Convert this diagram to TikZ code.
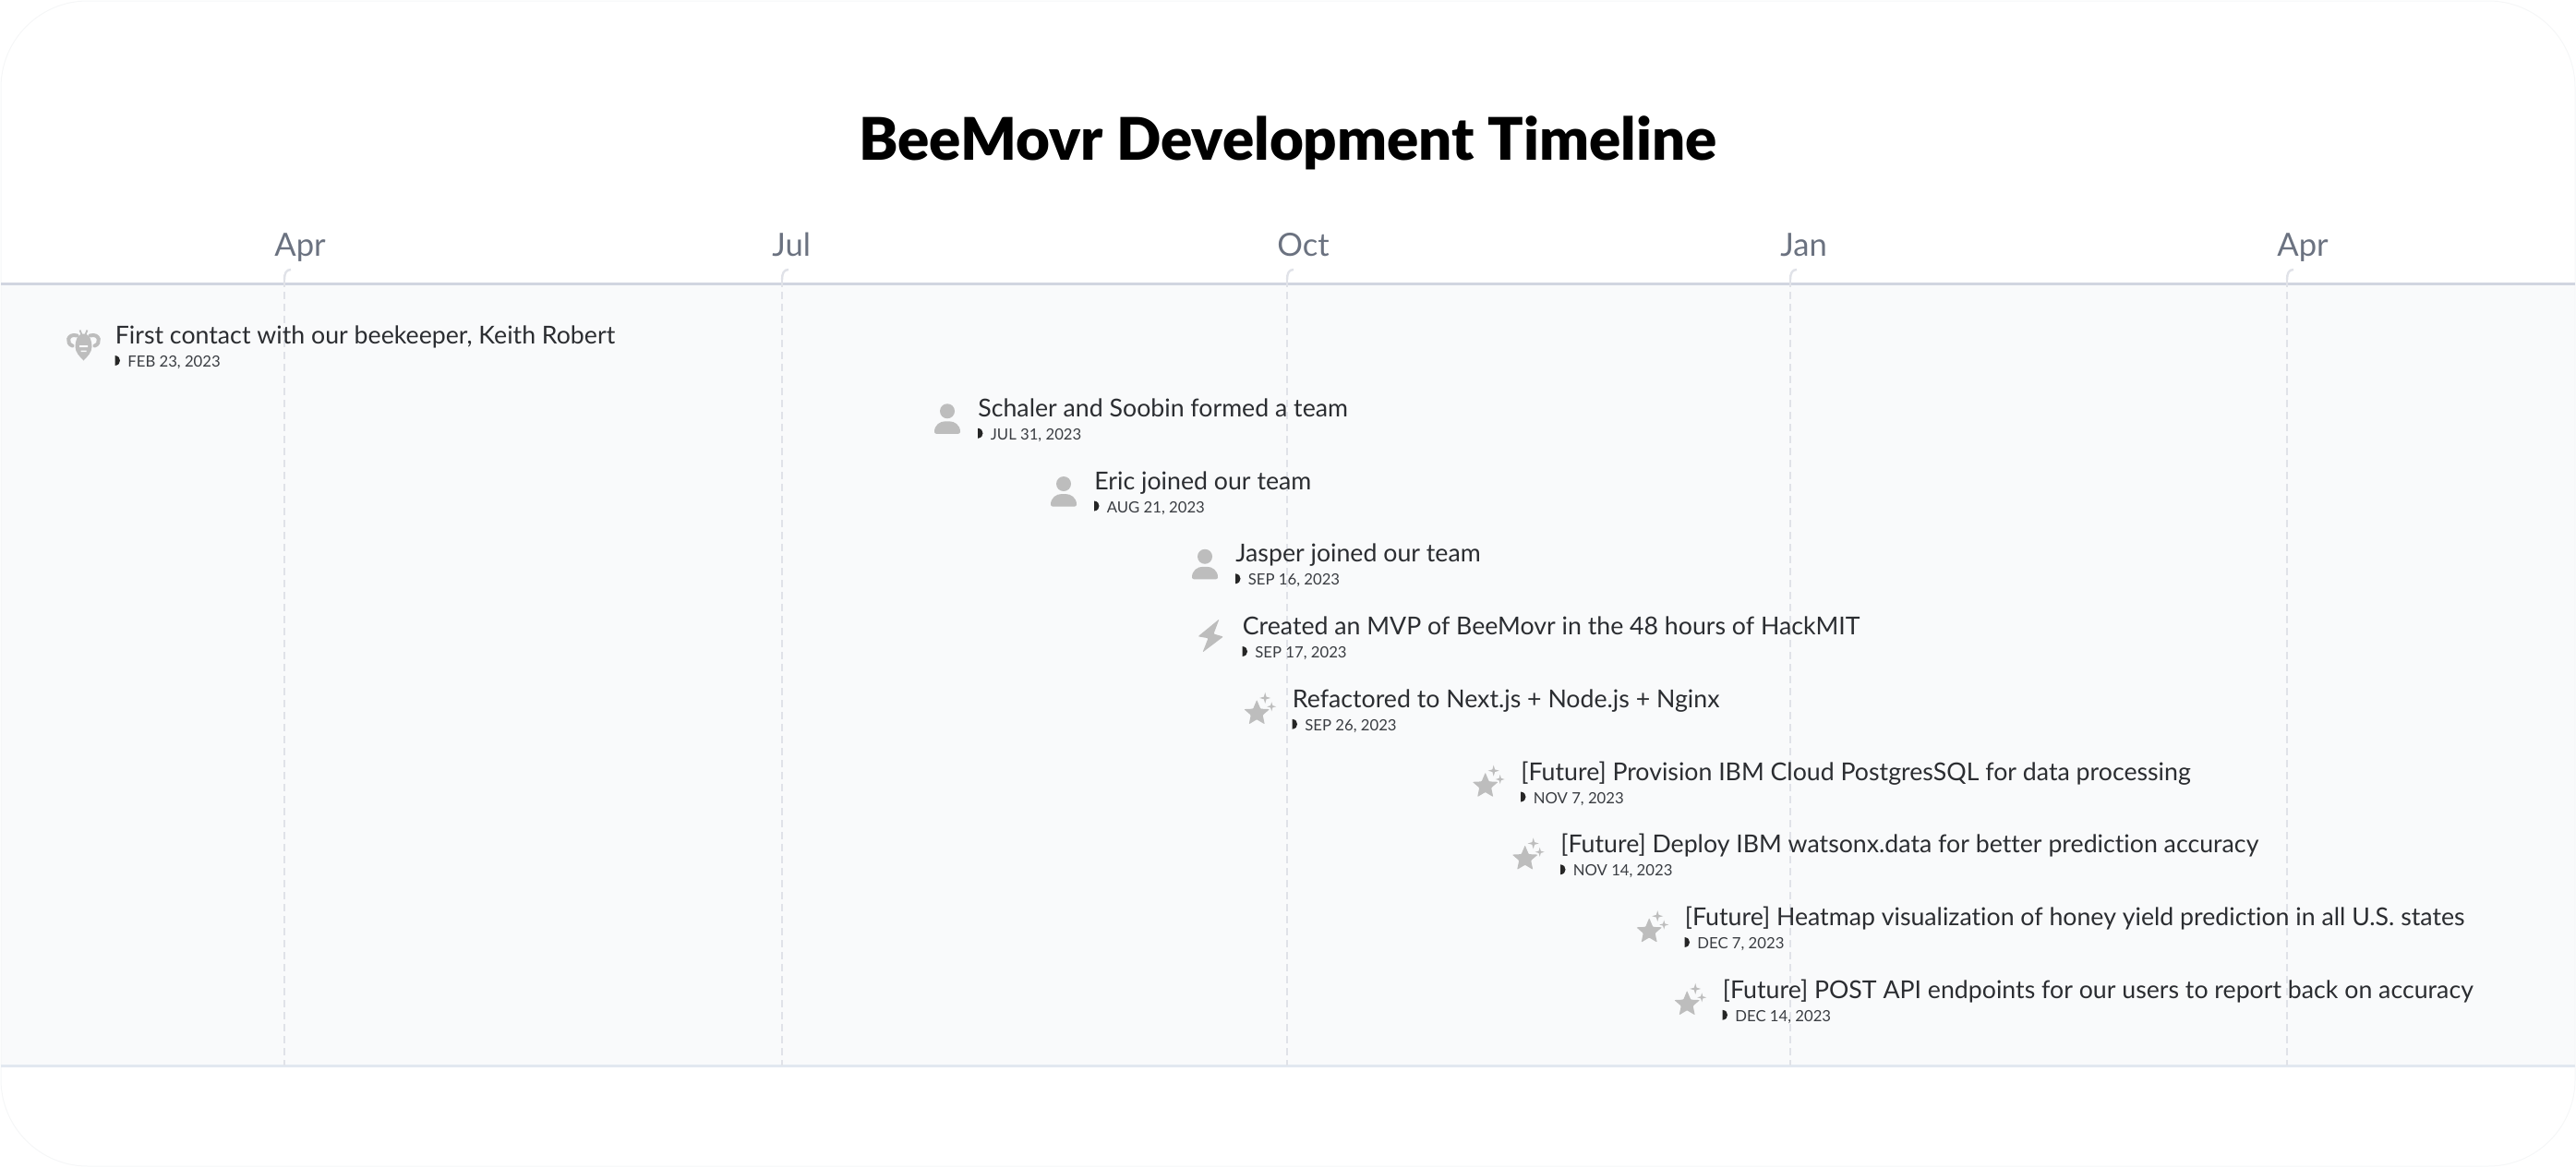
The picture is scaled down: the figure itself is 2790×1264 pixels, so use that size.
\documentclass[tikz,border=0pt]{standalone}
\usepackage{fontspec}
\setmainfont{Lato}[Ligatures=CommonOff]
\newfontfamily\titlefont{Lato Black}[Ligatures=CommonOff]
\definecolor{frameline}{HTML}{F5F6F7}
\definecolor{bandfill}{HTML}{F9FAFB}
\definecolor{headline}{HTML}{D1D5E0}
\definecolor{footline}{HTML}{E2E8F0}
\definecolor{gridline}{HTML}{E0E2E8}
\definecolor{monthtext}{HTML}{6B7280}
\definecolor{eventtext}{HTML}{2B2D31}
\definecolor{datetext}{HTML}{3A3D42}
\definecolor{iconfill}{HTML}{BDBDBD}
\tikzset{%
  month label/.style={anchor=base west,inner sep=0pt,text=monthtext,font=\fontsize{17.3}{21}\selectfont},
  event label/.style={anchor=base west,inner sep=0pt,text=eventtext,font=\fontsize{13.35}{16}\selectfont},
  date label/.style={anchor=base west,inner sep=0pt,text=datetext,font=\fontsize{8.35}{10}\selectfont},
  grid rule/.style={gridline,line width=1.2pt,dash pattern=on 4pt off 2.5pt},
  grid hook/.style={gridline,line width=1.2pt}
}
\newcommand\DrawPerson[2]{
  \begin{scope}[shift={(#1,#2)}]
    \fill[iconfill] (-33,-6) circle (4pt);
    \fill[iconfill,rounded corners=1pt] (-47,18.5) .. controls (-47,9) and (-41,5) .. (-33,5) .. controls (-25,5) and (-19,9) .. (-19,18.5) -- cycle;
  \end{scope}
}
\newcommand\DrawBolt[2]{
  \begin{scope}[shift={(#1,#2)}]
    \fill[iconfill,rounded corners=.5pt] (-25,-17) -- (-48,1.8) -- (-37,3.7) -- (-43,19) -- (-20.5,2) -- (-31,-1) -- cycle;
  \end{scope}
}
\newcommand\DrawSpark[3]{
  \fill[iconfill] (#1,#2-#3) -- (#1+.22*#3,#2-.22*#3) -- (#1+#3,#2) -- (#1+.22*#3,#2+.22*#3)
    -- (#1,#2+#3) -- (#1-.22*#3,#2+.22*#3) -- (#1-#3,#2) -- (#1-.22*#3,#2-.22*#3) -- cycle;
}
\newcommand\DrawStars[2]{
  \begin{scope}[shift={(#1,#2)}]
    \begin{scope}[shift={(-38.3,6.3)},scale=1.12]
      \fill[iconfill,rounded corners=.4pt] (0,-13) -- (3.6,-4.4) -- (12.4,-4) -- (5.8,1.7) -- (7.6,10.5) -- (0,6)
        -- (-7.6,10.5) -- (-5.8,1.7) -- (-12.4,-4) -- (-3.6,-4.4) -- cycle;
    \end{scope}
    \DrawSpark{-29.3}{-10.3}{6}
    \DrawSpark{-22.3}{-1}{5}
  \end{scope}
}
\newcommand\DrawBee[2]{
  \begin{scope}[shift={(#1,#2)},xshift=-17pt]
    \draw[iconfill,line width=2pt,line cap=round] (-7,-9) .. controls (-18,-12) and (-19,0) .. (-12,2);
    \draw[iconfill,line width=2pt,line cap=round] (7,-9) .. controls (18,-12) and (19,0) .. (12,2);
    \fill[iconfill] (0,-11) .. controls (7,-11) and (9,-3) .. (9,3) .. controls (9,9) and (4,14) .. (0,18)
      .. controls (-4,14) and (-9,9) .. (-9,3) .. controls (-9,-3) and (-7,-11) .. (0,-11);
    \draw[iconfill,line width=.9pt] (-4,-15) -- (-2,-10) (4,-15) -- (2,-10);
    \fill[bandfill] (-4.5,1.5) rectangle (4.5,3.5) (-3,7) rectangle (3,8.5);
  \end{scope}
}
\begin{document}
\begin{tikzpicture}[x=.5pt,y=-.5pt]
\useasboundingbox (0,0) rectangle (2790,1264);

% frame and band
\fill[bandfill] (1,307) rectangle (2789,1154);
\draw[frameline,line width=.5pt,rounded corners=47pt] (1,1) rectangle (2789,1263);
\draw[headline,line width=1.5pt] (1,307) -- (2789,307);
\draw[footline,line width=1.5pt] (1,1154) -- (2789,1154);

% month ticks
\foreach \xt/\mon [count=\i] in {308/Apr,847/Jul,1394/Oct,1939/Jan,2477/Apr}{
  \draw[grid hook] (\xt+7,292) .. controls (\xt+2,292) and (\xt,296) .. (\xt,303);
  \draw[grid rule] (\xt,303) -- (\xt,1154);
  \node[month label] (month\i) at (\xt-11,277.5) {\mon};
}

\node[anchor=base,inner sep=0pt,font=\fontsize{31.8}{38}\titlefont] (title) at (1395,173) {BeeMovr Development Timeline};

% events
\foreach \xe/\ic/\txt/\dt [count=\n from 0] in {
  124.5/Bee/{First contact with our beekeeper, Keith Robert}/{FEB 23, 2023},
  1059/Person/{Schaler and Soobin formed a team}/{JUL 31, 2023},
  1185/Person/{Eric joined our team}/{AUG 21, 2023},
  1338/Person/{Jasper joined our team}/{SEP 16, 2023},
  1345.5/Bolt/{Created an MVP of BeeMovr in the 48 hours of HackMIT}/{SEP 17, 2023},
  1399.5/Stars/{Refactored to Next.js + Node.js + Nginx}/{SEP 26, 2023},
  1647/Stars/{[Future] Provision IBM Cloud PostgresSQL for data processing}/{NOV 7, 2023},
  1690/Stars/{[Future] Deploy IBM watsonx.data for better prediction accuracy}/{NOV 14, 2023},
  1824.5/Stars/{[Future] Heatmap visualization of honey yield prediction in all U.S. states}/{DEC 7, 2023},
  1865.5/Stars/{[Future] POST API endpoints for our users to report back on accuracy}/{DEC 14, 2023}}{
  \pgfmathsetmacro\ye{372.5+78.75*\n}
  \csname Draw\ic\endcsname{\xe}{\ye}
  \node[event label] (event\n) at (\xe,\ye) {\txt};
  \node[date label] (date\n) at (\xe+13.5,\ye+25) {\dt};
  \fill[black!85] (\xe,\ye+12.5) .. controls (\xe+4,\ye+13) and (\xe+5.5,\ye+15.5) .. (\xe+5.5,\ye+18)
    .. controls (\xe+5.5,\ye+20.5) and (\xe+4,\ye+23) .. (\xe,\ye+23.5) -- cycle;
}
\end{tikzpicture}
\end{document}
